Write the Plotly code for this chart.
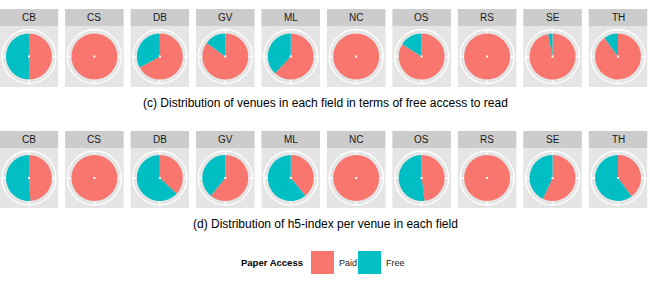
import plotly.graph_objects as go

fields = ["CB", "CS", "DB", "GV", "ML", "NC", "OS", "RS", "SE", "TH"]
access_levels = ["Paid", "Free"]
level_colors = ["#F8766D", "#00BFC4"]

# (c) venues by free access to read (%)
venues_paid = [50, 100, 67, 85, 62, 100, 84, 100, 97, 90]
venues_free = [50, 0, 33, 15, 38, 0, 16, 0, 3, 10]

# (d) h5-index per venue (%)
h5_paid = [49, 100, 37, 61, 39, 100, 48, 100, 57, 40]
h5_free = [51, 0, 63, 39, 61, 0, 52, 0, 43, 60]

titles = [
    "(c) Distribution of venues in each field in terms of free access to read",
    "(d) Distribution of h5-index per venue in each field",
]

W, H = 650, 300
STEP, PW = 65.45, 58.5
R_PIE, R_RING = 23, 27
rows = [
    dict(strip=(9, 26), panel=(26, 87), paid=venues_paid, free=venues_free, title_y=103),
    dict(strip=(131, 148), panel=(148, 208), paid=h5_paid, free=h5_free, title_y=224),
]

def px(x):
    return x / W

def py(y):
    return 1 - y / H

fig = go.Figure()
shapes = []
annotations = []

for ri, row in enumerate(rows):
    s0, s1 = row["strip"]
    p0, p1 = row["panel"]
    cy = (p0 + p1) / 2
    for i, f in enumerate(fields):
        x0 = i * STEP - 0.3
        x1 = x0 + PW
        cx = (x0 + x1) / 2
        shapes.append(dict(type="rect", xref="paper", yref="paper", x0=px(x0), x1=px(x1),
                           y0=py(s1), y1=py(s0), fillcolor="#CCCCCC", line=dict(width=0), layer="below"))
        shapes.append(dict(type="rect", xref="paper", yref="paper", x0=px(x0), x1=px(x1),
                           y0=py(p1), y1=py(p0), fillcolor="#E5E5E5", line=dict(width=0), layer="below"))
        shapes.append(dict(type="circle", xref="paper", yref="paper",
                           x0=px(cx - R_RING), x1=px(cx + R_RING), y0=py(cy + R_RING), y1=py(cy - R_RING),
                           line=dict(color="white", width=1.3), layer="below"))
        # radial grid lines
        shapes.append(dict(type="line", xref="paper", yref="paper", x0=px(cx), x1=px(cx),
                           y0=py(cy - R_RING - 0.5), y1=py(cy + R_RING + 0.5),
                           line=dict(color="white", width=1.3), layer="below"))
        shapes.append(dict(type="line", xref="paper", yref="paper", x0=px(cx - R_RING - 0.5), x1=px(cx + R_RING + 0.5),
                           y0=py(cy), y1=py(cy), line=dict(color="white", width=1.3), layer="below"))
        annotations.append(dict(text=f, xref="paper", yref="paper", x=px(cx), y=py((s0 + s1) / 2),
                                showarrow=False, font=dict(size=10, color="#1A1A1A"),
                                xanchor="center", yanchor="middle"))
        fig.add_trace(go.Pie(
            labels=access_levels, values=[row["paid"][i], row["free"][i]],
            marker=dict(colors=level_colors, line=dict(width=0)),
            sort=False, direction="clockwise", rotation=0,
            textinfo="none", hoverinfo="label+percent", showlegend=False,
            domain=dict(x=[px(cx - R_PIE), px(cx + R_PIE)], y=[py(cy + R_PIE), py(cy - R_PIE)]),
        ))
        shapes.append(dict(type="rect", xref="paper", yref="paper", x0=px(cx - 1), x1=px(cx + 1),
                           y0=py(cy + 1), y1=py(cy - 1), fillcolor="white", line=dict(width=0), layer="above"))
    annotations.append(dict(text=titles[ri], xref="paper", yref="paper", x=px(326), y=py(row["title_y"]),
                            showarrow=False, font=dict(size=12, color="#000000"),
                            xanchor="center", yanchor="middle"))

# legend
leg_y = 262.5
annotations.append(dict(text="<b>Paper Access</b>", xref="paper", yref="paper", x=px(305), y=py(leg_y),
                        showarrow=False, font=dict(size=9.5, color="#000000"), xanchor="right", yanchor="middle"))
key_x = [311, 358]
for lvl, col, kx in zip(access_levels, level_colors, key_x):
    shapes.append(dict(type="rect", xref="paper", yref="paper", x0=px(kx), x1=px(kx + 23),
                       y0=py(274), y1=py(251), fillcolor=col, line=dict(width=0)))
    annotations.append(dict(text=lvl, xref="paper", yref="paper", x=px(kx + 25.5), y=py(leg_y),
                            showarrow=False, font=dict(size=9, color="#1A1A1A"), xanchor="left", yanchor="middle"))

fig.update_layout(
    width=W, height=H, margin=dict(l=0, r=0, t=0, b=0),
    paper_bgcolor="white", plot_bgcolor="white",
    font=dict(family="Liberation Sans, Arial, sans-serif"),
    shapes=shapes, annotations=annotations, showlegend=False,
)
fig.write_html("out.html", config=dict(displayModeBar=False),
               post_script="document.body.style.margin='0';document.body.style.padding='0';")
